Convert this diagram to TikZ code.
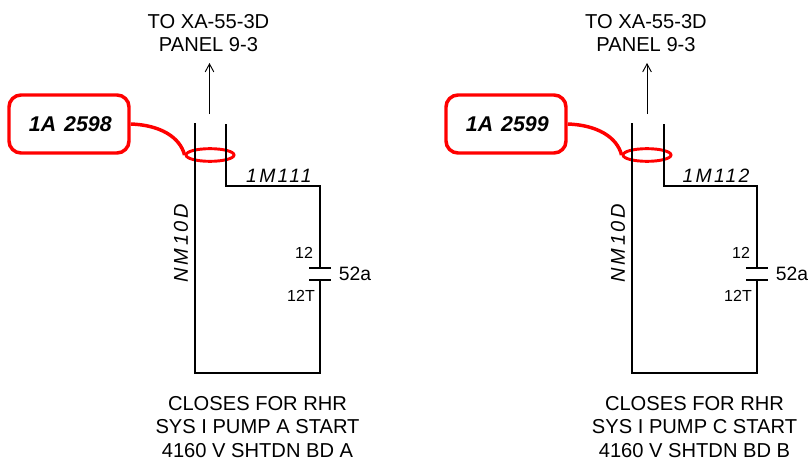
\documentclass[tikz,border=0pt]{standalone}
\usepackage{fontspec}
\setmainfont{Liberation Sans}
\newfontfamily\spacedfont[LetterSpace=12]{Liberation Sans}
\newfontfamily\widefont[LetterSpace=13]{Liberation Sans}
\usetikzlibrary{calc,positioning,arrows.meta,shapes.geometric}
\tikzset{
>={Straight Barb[length=6pt,width=6.5pt]},
wire/.style={draw, line width=2.1pt},
plate/.style={draw, line width=2.1pt},
feed/.style={draw, line width=0.7pt, ->},
redline/.style={draw=red, line width=2.6pt},
tagbox/.style={rectangle, rounded corners=9pt, draw=red, line width=2.6pt, minimum width=90pt, minimum height=43.5pt, inner sep=0pt, font=\fontsize{16}{18}\selectfont\bfseries\itshape},
ring/.style={ellipse, draw=red, line width=2.2pt, minimum width=36pt, minimum height=9.5pt, inner sep=0pt},
caption/.style={align=center, inner sep=0pt, font=\fontsize{15.1}{17.8}\selectfont},
wirelabel/.style={font=\fontsize{15}{17}\selectfont\widefont\itshape},
cablelabel/.style={font=\fontsize{14.5}{17}\selectfont\spacedfont\itshape},
termlabel/.style={font=\fontsize{12}{14}\selectfont},
contactlabel/.style={font=\fontsize{14.5}{17}\selectfont},
}

\begin{document}
\begin{tikzpicture}
[x=0.75pt, y=-0.75pt]
\useasboundingbox (0,0) rectangle (809,460);

% left panel
\node[caption] (toa) at (208.5,33) {TO XA-55-3D\\PANEL 9-3};
\coordinate (tipa) at (209.5,63);
\coordinate (taila) at (209.5,114);
\draw[feed] (taila) -- (tipa);
\node[tagbox] (taga) at (69,124) {\hspace{2pt}1A\hspace{6pt}2598};
\node[ring] (ringa) at (210,155) {};
\coordinate (nma) at (195,123);
\coordinate (nmb) at (195,373);
\coordinate (ma) at (226,124);
\coordinate (mb) at (226,186);
\coordinate (mc) at (320,186);
\coordinate (md) at (320,268);
\coordinate (me) at (320,280);
\coordinate (mf) at (320,373);
\draw[wire] (nma) -- (nmb) -- (mf) -- (me);
\draw[wire] (ma) -- (mb) -- (mc) -- (md);
\draw[plate] ($(md)+(-11,0)$) -- ($(md)+(11,0)$);
\draw[plate] ($(me)+(-11,0)$) -- ($(me)+(11,0)$);
\draw[redline] (taga.east) .. controls (160,125) and (180,137) .. (ringa.west);
\node[cablelabel] (mlabela) at (279,176) {1M111};
\node[wirelabel, rotate=90] (nmlabela) at (181,243) {NM10D};
\node[termlabel] (topa) at (304,253) {12};
\node[termlabel] (bota) at (301,296) {12T};
\node[contactlabel] (cona) at (355,274) {52a};
\node[caption] (capa) at (257.5,427) {CLOSES FOR RHR\\SYS I PUMP A START\\4160 V SHTDN BD A};

% right panel
\node[caption] (tob) at (646,33) {TO XA-55-3D\\PANEL 9-3};
\coordinate (tipb) at (647,63);
\coordinate (tailb) at (647,114);
\draw[feed] (tailb) -- (tipb);
\node[tagbox] (tagb) at (506,124) {\hspace{2pt}1A\hspace{6pt}2599};
\node[ring] (ringb) at (647,155) {};
\coordinate (nmc) at (632,123);
\coordinate (nmd) at (632,373);
\coordinate (mg) at (664,124);
\coordinate (mh) at (664,186);
\coordinate (mi) at (757,186);
\coordinate (mj) at (757,268);
\coordinate (mk) at (757,280);
\coordinate (ml) at (757,373);
\draw[wire] (nmc) -- (nmd) -- (ml) -- (mk);
\draw[wire] (mg) -- (mh) -- (mi) -- (mj);
\draw[plate] ($(mj)+(-11,0)$) -- ($(mj)+(11,0)$);
\draw[plate] ($(mk)+(-11,0)$) -- ($(mk)+(11,0)$);
\draw[redline] (tagb.east) .. controls (597,125) and (617,137) .. (ringb.west);
\node[cablelabel] (mlabelb) at (716,176) {1M112};
\node[wirelabel, rotate=90] (nmlabelb) at (618,243) {NM10D};
\node[termlabel] (topb) at (741,253) {12};
\node[termlabel] (botb) at (738,296) {12T};
\node[contactlabel] (conb) at (792,274) {52a};
\node[caption] (capb) at (694.5,427) {CLOSES FOR RHR\\SYS I PUMP C START\\4160 V SHTDN BD B};

\end{tikzpicture}
\end{document}
